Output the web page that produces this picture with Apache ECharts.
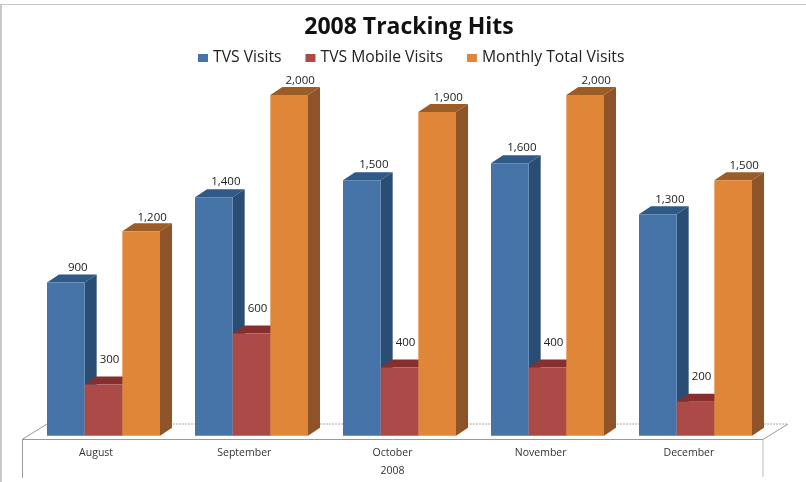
<!DOCTYPE html>
<html>
<head>
<meta charset="utf-8">
<style>html,body{margin:0;padding:0;background:#fff}#c{width:806px;height:482px}</style>
<script src="https://cdn.jsdelivr.net/npm/echarts@6/dist/echarts.min.js"></script>
</head>
<body>
<div id="c"></div>
<script>
const categories = ['August', 'September', 'October', 'November', 'December'];
const groupLabels = ['2008'];
const tvsVisits = [900, 1400, 1500, 1600, 1300];
const tvsMobileVisits = [300, 600, 400, 400, 200];
const monthlyTotalVisits = [1200, 2000, 1900, 2000, 1500];

const FONT = '"Open Sans", sans-serif';
const DX = 12, DY = 8;
const specs = [
  {name: 'TVS Visits', data: tvsVisits, front: '#4674A9', side: '#2A4D74', top: '#2F5A88', lx: 12, ly: 15},
  {name: 'TVS Mobile Visits', data: tvsMobileVisits, front: '#AC4A48', side: '#7A2E2C', top: '#85302F', lx: 6, ly: 25},
  {name: 'Monthly Total Visits', data: monthlyTotalVisits, front: '#DF8639', side: '#8E5328', top: '#9C5C26', lx: 11, ly: 14}
];

function render3d(spec, idx) {
  return function (params, api) {
    const cat = api.value(0), val = api.value(1);
    const band = api.size([1, 0])[0];
    const w = band * 113 / 148 / 3;
    const c = api.coord([cat, val]), b = api.coord([cat, 0]);
    const x0 = c[0] - 1.5 * w + idx * w, x1 = x0 + w, yT = c[1], yB = b[1];
    return {
      type: 'group',
      children: [
        {type: 'polygon', shape: {points: [[x1, yT], [x1 + DX, yT - DY], [x1 + DX, yB - DY], [x1, yB]]}, style: {fill: spec.side}},
        {type: 'polygon', shape: {points: [[x0, yT], [x0 + DX, yT - DY], [x1 + DX, yT - DY], [x1, yT]]}, style: {fill: spec.top}},
        {type: 'rect', shape: {x: x0, y: yT, width: w, height: yB - yT}, style: {fill: spec.front}},
        {type: 'text', z2: 50, style: {
          text: val.toLocaleString('en-US'), x: (x0 + x1) / 2 + spec.lx, y: yT - spec.ly,
          align: 'center', verticalAlign: 'middle', fill: '#222', font: '11.5px ' + FONT
        }}
      ]
    };
  };
}

const chart = echarts.init(document.getElementById('c'), null, {renderer: 'canvas'});
chart.setOption({
  animation: false,
  backgroundColor: '#fff',
  title: {
    text: '2008 Tracking Hits', left: 404, top: 11, textAlign: 'center',
    textStyle: {fontFamily: FONT, fontSize: 23, fontWeight: 'bold', color: '#111'}
  },
  legend: {
    left: 198, top: 50, padding: 0, itemWidth: 10, itemHeight: 8, itemGap: 24, icon: 'rect',
    textStyle: {fontFamily: FONT, fontSize: 15.7, color: '#222'},
    data: specs.map(s => s.name)
  },
  grid: [
    {left: 29.5, width: 740, top: 95, height: 340.7},
    {left: 22, width: 741, top: 95, height: 344.5}
  ],
  xAxis: [
    {type: 'category', gridIndex: 0, data: categories, show: false},
    {type: 'category', gridIndex: 1, data: categories, position: 'bottom',
     axisLine: {show: false}, axisTick: {show: false},
     axisLabel: {fontFamily: FONT, fontSize: 10.5, color: '#333', margin: 8}},
    {type: 'category', gridIndex: 1, data: groupLabels, position: 'bottom', offset: 18,
     axisLine: {show: false}, axisTick: {show: false},
     axisLabel: {fontFamily: FONT, fontSize: 10.5, color: '#333', margin: 8}}
  ],
  yAxis: [
    {type: 'value', gridIndex: 0, min: 0, max: 2000, show: false},
    {type: 'value', gridIndex: 1, show: false}
  ],
  series: specs.map((s, i) => ({
    type: 'custom', name: s.name, xAxisIndex: 0, yAxisIndex: 0, clip: false, z: 5,
    itemStyle: {color: s.front},
    encode: {x: 0, y: 1},
    data: s.data.map((v, k) => [k, v]),
    renderItem: render3d(s, i)
  })),
  graphic: [
    // frame of the picture
    {type: 'rect', silent: true, z: 0, shape: {x: 0, y: 4, width: 2, height: 478}, style: {fill: '#C8C8C8'}},
    {type: 'rect', silent: true, z: 0, shape: {x: 0, y: 4, width: 806, height: 1}, style: {fill: '#C8C8C8'}},
    // floor
    {type: 'polyline', silent: true, z: 1, shape: {points: [[47, 424], [22, 439.5]]}, style: {stroke: '#999', lineWidth: 1, fill: null}},
    {type: 'polyline', silent: true, z: 1, shape: {points: [[763, 439.5], [788, 424]]}, style: {stroke: '#999', lineWidth: 1, fill: null}},
    {type: 'line', silent: true, z: 1, shape: {x1: 47, y1: 424, x2: 788, y2: 424}, style: {stroke: '#aaa', lineWidth: 1, lineDash: [2, 1]}},
    // category box
    {type: 'line', silent: true, z: 1, shape: {x1: 22, y1: 439.5, x2: 763, y2: 439.5}, style: {stroke: '#999', lineWidth: 1}},
    {type: 'line', silent: true, z: 1, shape: {x1: 22.5, y1: 439.5, x2: 22.5, y2: 478}, style: {stroke: '#999', lineWidth: 1}},
    {type: 'line', silent: true, z: 1, shape: {x1: 763, y1: 439.5, x2: 763, y2: 477}, style: {stroke: '#bbb', lineWidth: 1}}
  ]
});
</script>
</body>
</html>
